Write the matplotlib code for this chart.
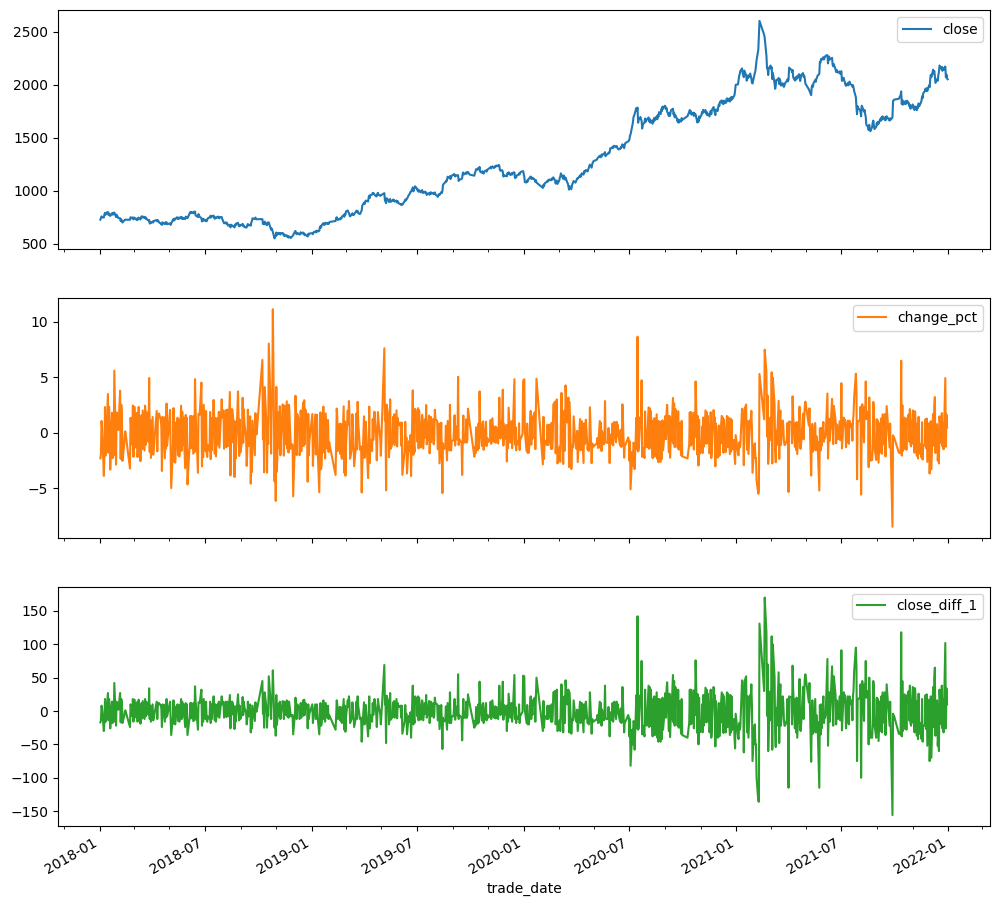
import numpy as np
import pandas as pd
import matplotlib
matplotlib.use("Agg")
import matplotlib.pyplot as plt
import matplotlib.dates as mdates

# Exchange holidays falling on weekdays (market closed)
holidays = [
    "2018-01-01", "2018-02-15", "2018-02-16", "2018-02-19", "2018-02-20", "2018-02-21",
    "2018-04-05", "2018-04-06", "2018-04-30", "2018-05-01", "2018-06-18", "2018-09-24",
    "2018-10-01", "2018-10-02", "2018-10-03", "2018-10-04", "2018-10-05", "2018-12-31",
    "2019-01-01", "2019-02-04", "2019-02-05", "2019-02-06", "2019-02-07", "2019-02-08",
    "2019-04-05", "2019-05-01", "2019-05-02", "2019-05-03", "2019-06-07", "2019-09-13",
    "2019-10-01", "2019-10-02", "2019-10-03", "2019-10-04", "2019-10-07",
    "2020-01-01", "2020-01-24", "2020-01-27", "2020-01-28", "2020-01-29", "2020-01-30",
    "2020-01-31", "2020-04-06", "2020-05-01", "2020-05-04", "2020-05-05", "2020-06-25",
    "2020-06-26", "2020-10-01", "2020-10-02", "2020-10-05", "2020-10-06", "2020-10-07",
    "2020-10-08",
    "2021-01-01", "2021-02-11", "2021-02-12", "2021-02-15", "2021-02-16", "2021-02-17",
    "2021-04-05", "2021-05-03", "2021-05-04", "2021-05-05", "2021-06-14", "2021-09-20",
    "2021-09-21", "2021-10-01", "2021-10-04", "2021-10-05", "2021-10-06", "2021-10-07",
]

# Daily close, one list per month
close_2018 = [
    [725, 742, 756, 748, 745, 775, 790, 772, 788, 797, 770, 784, 766, 760, 786, 772, 790, 776, 792, 750, 772, 758],
    [752, 740, 738, 711, 728, 710, 698, 716, 724, 725, 724, 748, 738, 746, 728],
    [744, 742, 725, 735, 722, 738, 744, 727, 746, 756, 744, 755, 740, 752, 734, 742, 728, 716, 722, 688, 700, 692],
    [708, 698, 712, 722, 708, 720, 712, 700, 688, 680, 676, 700, 690, 684, 700, 690, 700, 682],
    [690, 676, 688, 724, 732, 716, 735, 728, 748, 740, 730, 745, 736, 752, 734, 746, 732, 740, 730, 754, 742, 750],
    [740, 776, 790, 798, 786, 797, 785, 800, 788, 802, 765, 750, 778, 765, 752, 740, 708, 730, 714, 730],
    [712, 724, 710, 722, 738, 746, 758, 744, 762, 752, 764, 742, 734, 748, 738, 754, 744, 752, 738, 748, 750, 728],
    [718, 704, 690, 700, 686, 695, 682, 668, 676, 652, 678, 664, 670, 656, 652, 679, 672, 688, 695, 670, 662, 676, 668],
    [680, 685, 664, 670, 656, 650, 653, 673, 684, 670, 678, 668, 700, 712, 738, 730, 745, 732, 729],
    [730, 685, 689, 681, 706, 678, 673, 698, 692, 699, 647, 630, 642, 627, 609, 548, 573, 567],
    [604, 580, 601, 590, 598, 584, 596, 600, 585, 574, 586, 572, 578, 562, 570, 556, 566, 552, 560, 566, 572, 578],
    [613, 618, 598, 588, 600, 590, 584, 596, 606, 594, 604, 588, 595, 578, 584, 572, 566, 592, 582, 594],
]
close_2019 = [
    [598, 588, 606, 614, 604, 616, 622, 612, 620, 655, 662, 650, 672, 692, 676, 688, 680, 696, 684, 694, 686, 698],
    [704, 712, 740, 748, 732, 722, 734, 728, 742, 736, 752, 770, 752, 780, 772],
    [803, 812, 796, 790, 768, 756, 774, 785, 772, 768, 776, 800, 810, 796, 808, 786, 778, 790, 802, 812, 858],
    [885, 872, 892, 905, 896, 934, 952, 930, 956, 962, 978, 966, 972, 962, 944, 948, 972, 978, 960, 950, 955],
    [975, 906, 896, 880, 928, 905, 892, 912, 920, 893, 906, 915, 902, 910, 895, 905, 887, 898, 886, 878],
    [872, 864, 874, 866, 900, 915, 906, 918, 922, 957, 965, 972, 988, 990, 1030, 992, 1012, 1022, 1040],
    [1018, 1002, 1010, 988, 1002, 982, 995, 1004, 988, 976, 990, 978, 982, 958, 968, 975, 960, 978, 984, 970, 978, 966, 976],
    [982, 962, 950, 940, 954, 966, 958, 985, 976, 995, 1052, 1062, 1078, 1092, 1085, 1102, 1130, 1118, 1136, 1108, 1122, 1140],
    [1148, 1156, 1150, 1132, 1145, 1138, 1145, 1090, 1102, 1108, 1118, 1162, 1170, 1152, 1162, 1172, 1158, 1168, 1175, 1150],
    [1140, 1165, 1180, 1202, 1196, 1215, 1205, 1222, 1178, 1168, 1182, 1172, 1160, 1178, 1190, 1178, 1192, 1198],
    [1204, 1214, 1222, 1208, 1220, 1228, 1212, 1222, 1232, 1225, 1236, 1230, 1242, 1234, 1196, 1186, 1192, 1176, 1132, 1145, 1136],
    [1142, 1134, 1164, 1156, 1172, 1146, 1156, 1162, 1150, 1166, 1172, 1118, 1130, 1124, 1142, 1150, 1162, 1152, 1170, 1176, 1182, 1183],
]
close_2020 = [
    [1130, 1078, 1077, 1095, 1086, 1106, 1112, 1132, 1110, 1122, 1112, 1118, 1102, 1082, 1098, 1075],
    [1025, 1055, 1040, 1065, 1072, 1082, 1094, 1086, 1098, 1104, 1096, 1112, 1102, 1118, 1124, 1096, 1066, 1086, 1094, 1062],
    [1092, 1118, 1132, 1162, 1150, 1110, 1142, 1126, 1104, 1122, 1076, 1066, 1040, 1008, 1040, 1012, 1046, 1064, 1076, 1090, 1074, 1084],
    [1098, 1114, 1112, 1142, 1128, 1146, 1162, 1150, 1182, 1172, 1184, 1194, 1180, 1198, 1212, 1232, 1244, 1216, 1250, 1262, 1276],
    [1292, 1304, 1310, 1328, 1314, 1332, 1320, 1342, 1340, 1354, 1362, 1324, 1334, 1346, 1358, 1352, 1360, 1398],
    [1400, 1414, 1402, 1418, 1422, 1408, 1420, 1406, 1398, 1388, 1392, 1408, 1404, 1422, 1436, 1400, 1432, 1448, 1464, 1470],
    [1480, 1518, 1530, 1612, 1640, 1690, 1705, 1722, 1780, 1756, 1782, 1640, 1668, 1694, 1670, 1660, 1585, 1620, 1642, 1680, 1648, 1662, 1668],
    [1690, 1652, 1676, 1640, 1662, 1630, 1668, 1650, 1686, 1664, 1700, 1672, 1712, 1694, 1740, 1722, 1768, 1750, 1792, 1772, 1800],
    [1795, 1768, 1778, 1745, 1702, 1732, 1706, 1745, 1760, 1772, 1718, 1735, 1690, 1712, 1676, 1650, 1672, 1640, 1665, 1650, 1684, 1666],
    [1702, 1742, 1760, 1728, 1748, 1716, 1735, 1704, 1730, 1712, 1718, 1642, 1675, 1650, 1700, 1680],
    [1712, 1740, 1730, 1762, 1738, 1760, 1725, 1742, 1710, 1726, 1700, 1732, 1752, 1720, 1760, 1788, 1752, 1736, 1712, 1765, 1750],
    [1790, 1812, 1800, 1838, 1850, 1822, 1840, 1815, 1848, 1826, 1858, 1870, 1842, 1866, 1840, 1876, 1852, 1884, 1862, 1890, 1902, 1942, 1998],
]
close_2021 = [
    [2002, 2040, 2082, 2100, 2128, 2152, 2106, 2092, 2070, 2132, 2088, 2036, 2054, 2086, 2064, 2104, 2080, 2058, 2018, 2010],
    [2085, 2110, 2130, 2180, 2230, 2330, 2465, 2601, 2470, 2440, 2270, 2153, 2160, 2090, 2150],
    [2180, 2150, 2164, 2052, 2110, 2010, 1960, 1990, 2044, 2040, 2062, 2004, 2052, 2030, 1990, 2012, 1990, 1978, 1990, 2012, 2034, 2048, 2030],
    [2045, 2160, 2138, 2118, 2138, 2070, 2038, 2064, 2046, 2078, 2058, 2098, 2082, 2034, 2062, 2092, 2108, 2072, 2084, 2058, 2010],
    [1955, 1942, 1900, 1976, 1994, 1978, 2012, 2044, 2026, 2058, 2064, 2084, 2100, 2215, 2206, 2242, 2232, 2258],
    [2236, 2254, 2262, 2272, 2278, 2200, 2252, 2264, 2236, 2252, 2185, 2172, 2194, 2142, 2118, 2138, 2122, 2112, 2124, 2102, 2116],
    [2126, 2035, 2064, 2036, 2022, 1998, 1988, 2014, 1992, 2008, 2028, 2006, 1996, 1980, 1994, 1972, 1940, 1880, 1785, 1720, 1795, 1778],
    [1760, 1740, 1700, 1800, 1790, 1745, 1760, 1720, 1695, 1620, 1600, 1570, 1620, 1570, 1560, 1600, 1640, 1660, 1615, 1580, 1600, 1640],
    [1620, 1648, 1630, 1675, 1660, 1690, 1668, 1700, 1672, 1690, 1662, 1698, 1700, 1660, 1682, 1668, 1690, 1846, 1850, 1858],
    [1866, 1900, 1935, 1817, 1855, 1810, 1840, 1815, 1842, 1820, 1848, 1826, 1796, 1810, 1772, 1790],
    [1812, 1776, 1794, 1760, 1792, 1758, 1795, 1780, 1822, 1796, 1830, 1848, 1890, 1872, 1918, 1940, 1962, 1938, 1965, 1940, 1992, 1975],
    [2050, 2092, 2070, 2140, 2104, 2128, 2080, 2015, 2052, 2036, 2088, 2120, 2180, 2148, 2168, 2130, 2156, 2138, 2170, 2068, 2094, 2060, 2050],
]

trading = pd.bdate_range("2018-01-01", "2021-12-31")
trading = trading[~trading.isin(pd.to_datetime(holidays))]

all_dates, all_close = [], []
for year, months in [(2018, close_2018), (2019, close_2019), (2020, close_2020), (2021, close_2021)]:
    for m, vals in enumerate(months, start=1):
        d = trading[(trading.year == year) & (trading.month == m)]
        if len(d) != len(vals):
            raise ValueError(f"{year}-{m:02d}: {len(d)} dates but {len(vals)} values")
        all_dates.extend(list(d))
        all_close.extend(vals)

close = pd.Series(all_close, index=pd.DatetimeIndex(all_dates), dtype=float)
# the changes were computed on newest-first ordered data
change_pct = (close / close.shift(-1) - 1.0) * 100.0
close_diff_1 = close - close.shift(-1)

fig, axes = plt.subplots(3, 1, sharex=True, figsize=(9.97, 9.06), dpi=100)
fig.subplots_adjust(left=58 / 997, right=990 / 997, top=1 - 10 / 906,
                    bottom=1 - 826 / 906, hspace=0.205)

series = [(close, "close", "C0"), (change_pct, "change_pct", "C1"),
          (close_diff_1, "close_diff_1", "C2")]
for ax, (s, name, col) in zip(axes, series):
    ax.plot(s.index, s.values, color=col, label=name, lw=1.5)
    ax.legend(loc="upper right")

ax = axes[-1]
ax.xaxis.set_major_locator(mdates.MonthLocator(bymonth=[1, 7]))
ax.xaxis.set_minor_locator(mdates.MonthLocator(bymonth=[3, 5, 9, 11]))
ax.xaxis.set_major_formatter(mdates.DateFormatter("%Y-%m"))
for lab in ax.get_xticklabels():
    lab.set_rotation(30)
    lab.set_ha("right")
ax.set_xlabel("trade_date")

fig.savefig("out.png", dpi=100)
